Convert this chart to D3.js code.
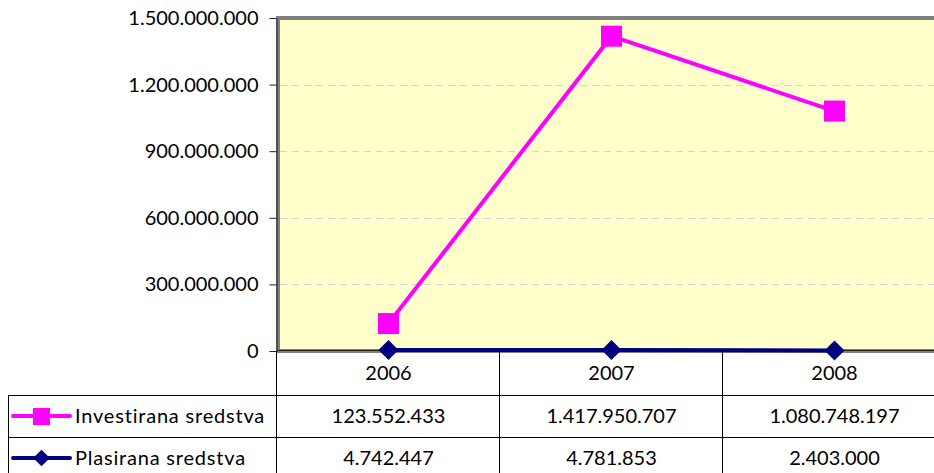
<!DOCTYPE html>
<html>
<head>
<meta charset="utf-8">
<script src="https://cdn.jsdelivr.net/npm/d3@7"></script>
<style>
  body { margin: 0; background: #fff; }
  svg { display: block; font-family: Lato, "Open Sans", sans-serif; }
</style>
</head>
<body>
<svg id="chart"></svg>
<script>
// data
const years = ["2006", "2007", "2008"];
const investirana = [123552433, 1417950707, 1080748197];
const plasirana = [4742447, 4781853, 2403000];
const yTicks = [0, 300000000, 600000000, 900000000, 1200000000, 1500000000];
const seriesNames = ["Investirana sredstva", "Plasirana sredstva"];

const width = 934, height = 473;
const margin = { top: 18, left: 277, plotBottom: 351 };
const colWidth = 223;
const rowTops = [351, 395, 437, 479];

const fmt = (v) => d3.format(",")(v).replace(/,/g, ".");

const svg = d3.select("#chart").attr("width", width).attr("height", height);

const x = d3.scaleBand()
  .domain(years)
  .range([margin.left, margin.left + colWidth * years.length]);

const y = d3.scaleLinear()
  .domain([0, 1500000000])
  .range([margin.plotBottom, margin.top]);

// plot area background with thick gray frame
svg.append("rect")
  .attr("x", margin.left + 1)
  .attr("y", margin.top)
  .attr("width", colWidth * years.length)
  .attr("height", margin.plotBottom - margin.top)
  .attr("fill", "#FFFFCC")
  .attr("stroke", "#808080")
  .attr("stroke-width", 4);

// gridlines
svg.append("g")
  .selectAll("line")
  .data(yTicks.slice(1, -1))
  .join("line")
  .attr("x1", margin.left + 3)
  .attr("x2", width)
  .attr("y1", (d) => Math.round(y(d)) + 0.5)
  .attr("y2", (d) => Math.round(y(d)) + 0.5)
  .attr("stroke", "#d4d4d4")
  .attr("stroke-dasharray", "7,5");

// y axis
const yAxis = d3.axisLeft(y)
  .tickValues(yTicks)
  .tickFormat(fmt)
  .tickSizeInner(7)
  .tickSizeOuter(0)
  .tickPadding(11);

const yAxisGroup = svg.append("g")
  .attr("transform", `translate(${margin.left - 0.5},0)`)
  .call(yAxis);
yAxisGroup.select(".domain").attr("stroke", "#222");
yAxisGroup.selectAll(".tick line").attr("stroke", "#222");
yAxisGroup.selectAll("text")
  .attr("font-size", 20)
  .attr("fill", "#000")
  .attr("font-family", "Lato, sans-serif");

// x baseline
svg.append("line")
  .attr("x1", margin.left).attr("x2", width)
  .attr("y1", margin.plotBottom - 0.5).attr("y2", margin.plotBottom - 0.5)
  .attr("stroke", "#222");

// data table grid
const table = svg.append("g").attr("stroke", "#000").attr("stroke-width", 1);
[rowTops[1], rowTops[2]].forEach((ty) => {
  table.append("line")
    .attr("x1", 8).attr("x2", width)
    .attr("y1", ty + 0.5).attr("y2", ty + 0.5);
});
table.append("line")
  .attr("x1", 8.5).attr("x2", 8.5)
  .attr("y1", rowTops[1]).attr("y2", height);
years.forEach((yr) => {
  const cx = Math.round(x(yr)) - 0.5;
  table.append("line")
    .attr("x1", cx).attr("x2", cx)
    .attr("y1", margin.plotBottom).attr("y2", height);
});

// category labels
svg.append("g")
  .selectAll("text")
  .data(years)
  .join("text")
  .attr("x", (d) => x(d) + x.bandwidth() / 2)
  .attr("y", (rowTops[0] + rowTops[1]) / 2 + 7)
  .attr("text-anchor", "middle")
  .attr("font-size", 20)
  .text((d) => d);

// table values
const tableRows = [investirana, plasirana];
tableRows.forEach((vals, r) => {
  svg.append("g")
    .selectAll("text")
    .data(vals)
    .join("text")
    .attr("x", (d, i) => x(years[i]) + x.bandwidth() / 2)
    .attr("y", (rowTops[r + 1] + rowTops[r + 2]) / 2 + 7)
    .attr("text-anchor", "middle")
    .attr("font-size", 20)
    .text((d) => fmt(d));
});

// series lines
const line = d3.line()
  .x((d, i) => x(years[i]) + x.bandwidth() / 2)
  .y((d) => y(d));

const pink = "#FF00FF", navy = "#000080";

svg.append("path")
  .datum(investirana)
  .attr("fill", "none")
  .attr("stroke", pink)
  .attr("stroke-width", 4)
  .attr("d", line);

svg.append("path")
  .datum(plasirana)
  .attr("fill", "none")
  .attr("stroke", navy)
  .attr("stroke-width", 4)
  .attr("d", line);

// markers
svg.append("g")
  .selectAll("rect")
  .data(investirana)
  .join("rect")
  .attr("x", (d, i) => x(years[i]) + x.bandwidth() / 2 - 10.5)
  .attr("y", (d) => y(d) - 10.5)
  .attr("width", 21)
  .attr("height", 21)
  .attr("fill", pink);

const diamond = d3.symbol().type(d3.symbolSquare).size(200);
svg.append("g")
  .selectAll("path")
  .data(plasirana)
  .join("path")
  .attr("transform", (d, i) => `translate(${x(years[i]) + x.bandwidth() / 2},${y(d)}) rotate(45)`)
  .attr("d", diamond)
  .attr("fill", navy);

// legend keys in table
const legendColors = [pink, navy];
seriesNames.forEach((name, r) => {
  const cy = (rowTops[r + 1] + rowTops[r + 2]) / 2;
  const g = svg.append("g");
  g.append("line")
    .attr("x1", 13).attr("x2", 70)
    .attr("y1", cy).attr("y2", cy)
    .attr("stroke", legendColors[r])
    .attr("stroke-width", 4)
    .attr("stroke-linecap", "round");
  if (r === 0) {
    g.append("rect")
      .attr("x", 33).attr("y", cy - 8)
      .attr("width", 17).attr("height", 17)
      .attr("fill", pink);
  } else {
    g.append("path")
      .attr("transform", `translate(41.5,${cy}) rotate(45)`)
      .attr("d", d3.symbol().type(d3.symbolSquare).size(140))
      .attr("fill", navy);
  }
  g.append("text")
    .attr("x", 75)
    .attr("y", cy + 7)
    .attr("font-size", 20)
    .attr("letter-spacing", 0.8)
    .text(name);
});
</script>
</body>
</html>
